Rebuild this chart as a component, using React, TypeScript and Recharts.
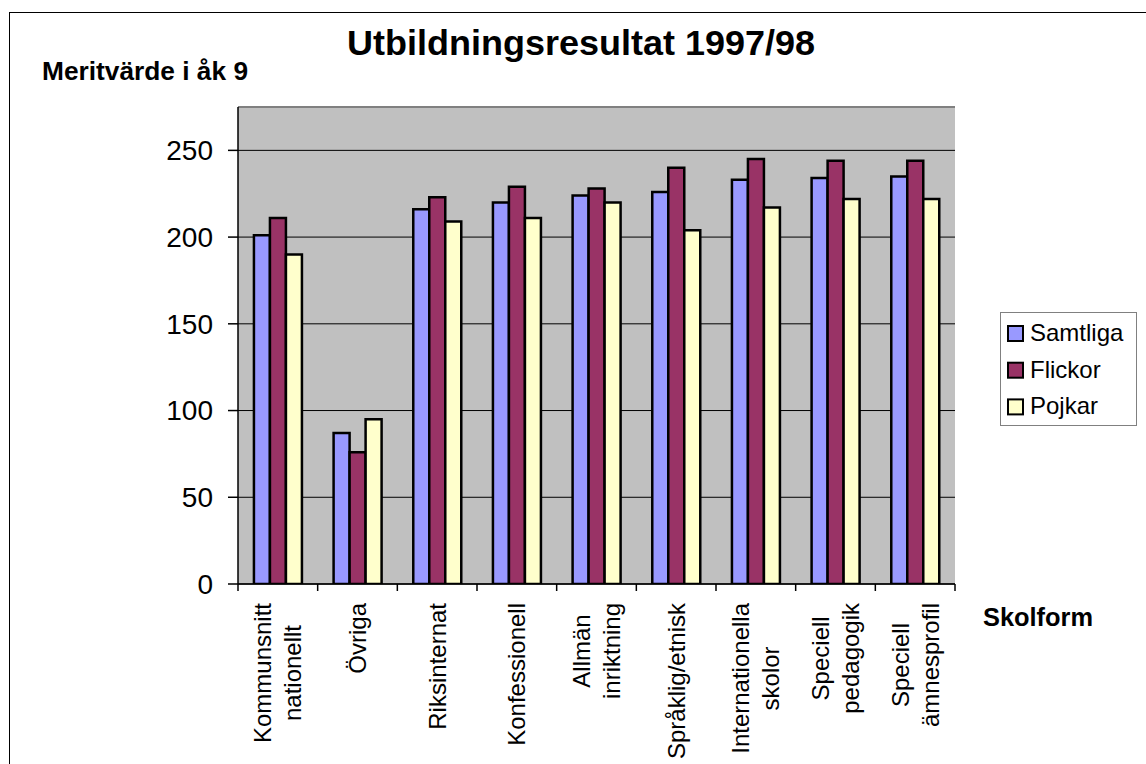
import { BarChart, Bar, XAxis, YAxis, CartesianGrid, ReferenceLine, Legend } from 'recharts'

const categories = [
  'Kommunsnitt\nnationellt',
  'Övriga',
  'Riksinternat',
  'Konfessionell',
  'Allmän\ninriktning',
  'Språklig/etnisk',
  'Internationella\nskolor',
  'Speciell\npedagogik',
  'Speciell\nämnesprofil',
]
const samtliga = [201, 87, 216, 220, 224, 226, 233, 234, 235]
const flickor = [211, 76, 223, 229, 228, 240, 245, 244, 244]
const pojkar = [190, 95, 209, 211, 220, 204, 217, 222, 222]
const seriesNames = ['Samtliga', 'Flickor', 'Pojkar']
const seriesColors = ['#9999FF', '#993366', '#FFFFCC']
const yTicks = [0, 50, 100, 150, 200, 250]

const data = categories.map((name, i) => ({
  name,
  Samtliga: samtliga[i],
  Flickor: flickor[i],
  Pojkar: pojkar[i],
}))

const FONT = "Arial, 'Liberation Sans', sans-serif"
const W = 1146
const H = 764
const PLOT_LEFT = 238
const PLOT_RIGHT = 955
const BAND = (PLOT_RIGHT - PLOT_LEFT) / categories.length

let ctx: CanvasRenderingContext2D | null = null
function measure(s: string) {
  if (!ctx) ctx = document.createElement('canvas').getContext('2d')
  if (!ctx) return s.length * 12
  ctx.font = `24px ${FONT}`
  return ctx.measureText(s).width
}

const XTick = ({ x, y, payload, index }: any) => {
  const lines = String(payload.value).split('\n')
  const maxLen = Math.max(...lines.map(measure))
  const cy = y + 19 + maxLen / 2
  const left = x - BAND / 2
  return (
    <g>
      <line x1={left} y1={y} x2={left} y2={y + 7} stroke="#000" strokeWidth={1.5} />
      {index === categories.length - 1 && (
        <line x1={x + BAND / 2} y1={y} x2={x + BAND / 2} y2={y + 7} stroke="#000" strokeWidth={1.5} />
      )}
      {lines.map((l, i) => (
        <text
          key={i}
          transform={`translate(${x + (i - (lines.length - 1) / 2) * 30 + 8.6},${cy}) rotate(-90)`}
          textAnchor="middle"
          fontSize={24}
          fontFamily={FONT}
          fill="#000"
        >
          {l}
        </text>
      ))}
    </g>
  )
}

// legend follows the series order, not the sorted payload
const LegendBox = () => (
  <svg width={138} height={115} style={{ display: 'block' }}>
    <rect x={0.5} y={0.5} width={136} height={113} fill="#fff" stroke="#808080" />
    {seriesNames.map((s, i) => {
      const base = 29 + i * 36.7
      return (
        <g key={s}>
          <rect x={8} y={base - 15} width={15} height={15} fill={seriesColors[i]} stroke="#000" strokeWidth={2} />
          <text x={30} y={base} fontSize={24} fontFamily={FONT} fill="#000">{s}</text>
        </g>
      )
    })}
  </svg>
)

export default function App() {
  return (
    <div style={{ position: 'absolute', left: 0, top: 0, width: W, height: H, overflow: 'hidden', background: '#fff' }}>
      <div style={{ position: 'absolute', left: 9, top: 12, width: 1300, height: 900, borderLeft: '1px solid #000', borderTop: '1px solid #000' }} />
      <div style={{ position: 'absolute', left: 0, top: 0 }}>
        <BarChart
          width={W}
          height={H}
          data={data}
          margin={{ top: 107, right: W - PLOT_RIGHT, bottom: 0, left: PLOT_LEFT - 60 }}
          barCategoryGap="20%"
          barGap={0}
        >
          <CartesianGrid vertical={false} stroke="#000" fill="#C0C0C0" />
          <XAxis
            dataKey="name"
            height={180}
            interval={0}
            tickSize={0}
            tickMargin={0}
            tickLine={false}
            axisLine={{ stroke: '#000', strokeWidth: 1.5 }}
            tick={<XTick />}
          />
          <YAxis
            width={60}
            domain={[0, 275]}
            ticks={yTicks}
            allowDataOverflow
            tickSize={10}
            tickMargin={15}
            tickLine={{ stroke: '#000', strokeWidth: 1.5 }}
            axisLine={{ stroke: '#000', strokeWidth: 1.5 }}
            tick={{ fill: '#000', fontSize: 28, fontFamily: FONT }}
          />
          <YAxis
            yAxisId="right"
            orientation="right"
            width={0}
            domain={[0, 275]}
            tick={false}
            tickLine={false}
            axisLine={{ stroke: '#808080', strokeWidth: 3 }}
          />
          <ReferenceLine y={275} stroke="#808080" strokeWidth={2} />
          <Legend
            layout="vertical"
            align="center"
            verticalAlign="middle"
            wrapperStyle={{ left: 1000, top: 312, width: 138, height: 115 }}
            content={<LegendBox />}
          />
          {seriesNames.map((s, i) => (
            <Bar key={s} dataKey={s} fill={seriesColors[i]} stroke="#000" strokeWidth={2.5} isAnimationActive={false} />
          ))}
        </BarChart>
      </div>
      <svg width={W} height={H} style={{ position: 'absolute', left: 0, top: 0, pointerEvents: 'none' }}>
        <text x={347} y={55} fontSize={35} fontWeight="bold" fontFamily={FONT} textLength={468} lengthAdjust="spacingAndGlyphs">
          Utbildningsresultat 1997/98
        </text>
        <text x={42} y={80} fontSize={25} fontWeight="bold" fontFamily={FONT} textLength={206} lengthAdjust="spacingAndGlyphs">
          Meritvärde i åk 9
        </text>
        <text x={983} y={626} fontSize={25} fontWeight="bold" fontFamily={FONT} textLength={110} lengthAdjust="spacingAndGlyphs">
          Skolform
        </text>
      </svg>
    </div>
  )
}
